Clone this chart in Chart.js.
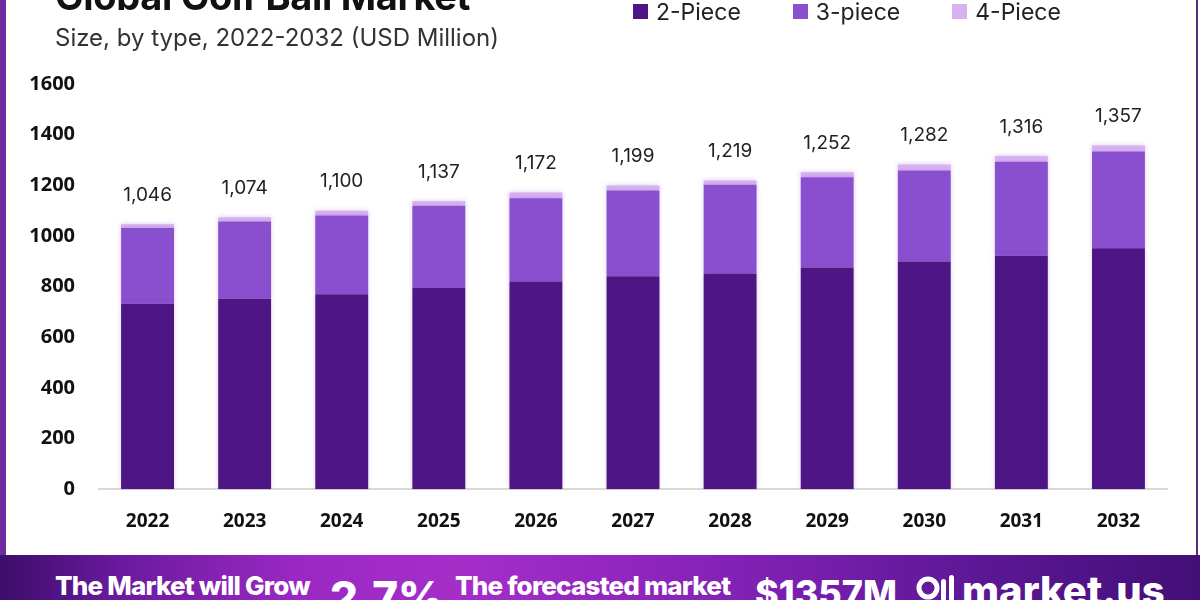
<!DOCTYPE html>
<html>
<head>
<meta charset="utf-8">
<script src="https://cdn.jsdelivr.net/npm/chart.js@4.4.1/dist/chart.umd.min.js"></script>
<style>
  html, body { margin:0; padding:0; width:1200px; height:600px; overflow:hidden; background:#fff; }
  #wrap { position:relative; width:1200px; height:600px; overflow:hidden; background:#fff; }
  #c { position:absolute; left:0; top:0; }
  #leftbar { position:absolute; left:0; top:0; width:6px; height:556px; background:#6e2ca0; }
  #rightbar { position:absolute; left:1196px; top:0; width:2px; height:556px; background:#5a2a7c; }
  #title { position:absolute; left:55px; top:-23px; font-family:Inter, sans-serif; font-weight:700; font-size:38px; line-height:1; color:#111; white-space:nowrap; letter-spacing:-0.3px; }
  #subtitle { position:absolute; left:55px; top:24px; font-family:Inter, sans-serif; font-weight:400; font-size:24px; line-height:1.2; color:#333; white-space:nowrap; }
  #legend { position:absolute; left:633px; top:0px; height:23px; font-family:Inter, sans-serif; font-size:23px; color:#222; display:flex; align-items:center; white-space:nowrap; }
  #legend .item { display:flex; align-items:center; margin-right:52px; }
  #legend .box { width:15px; height:15px; margin-right:8px; }
  #banner { position:absolute; left:0; top:555px; width:1200px; height:45px;
    background:linear-gradient(90deg,#3c0e6c 0%,#6a1a9e 10%,#9b28c4 25%,#a52ec9 38%,#9226bf 52%,#7a1fb0 66%,#5c1794 82%,#420f78 100%); overflow:hidden; }
  .bt { position:absolute; color:#fff; font-family:Inter, sans-serif; font-weight:800; white-space:nowrap; }
</style>
</head>
<body>
<div id="wrap">
  <canvas id="c" width="1200" height="555"></canvas>
  <div id="leftbar"></div>
  <div id="rightbar"></div>
  <div id="title">Global Golf Ball Market</div>
  <div id="subtitle">Size, by type, 2022-2032 (USD Million)</div>
  <div id="legend"></div>
  <div id="banner">
    <div class="bt" style="left:55px;top:15px;font-size:26px;letter-spacing:-0.8px;">The Market will Grow</div>
    <div class="bt" style="left:330px;top:15px;font-size:44px;">2.7%</div>
    <div class="bt" style="left:455px;top:15px;font-size:26px;letter-spacing:-0.8px;">The forecasted market</div>
    <div class="bt" style="left:755px;top:16px;font-size:36px;">$1357M</div>
    <svg style="position:absolute;left:915px;top:18px;" width="42" height="30" viewBox="0 0 42 30">
      <circle cx="13" cy="15" r="9" fill="none" stroke="#fff" stroke-width="5"/>
      <rect x="26" y="6" width="5" height="22" rx="2.5" fill="#fff"/>
      <rect x="34" y="2" width="5" height="26" rx="2.5" fill="#fff"/>
    </svg>
    <div class="bt" style="left:962px;top:11px;font-size:40px;">market.us</div>
  </div>
</div>
<script>
const years = ["2022","2023","2024","2025","2026","2027","2028","2029","2030","2031","2032"];
const twoPiece   = [732, 752, 770, 794, 820, 841, 852, 875, 899, 922, 951];
const threePiece = [299, 305, 311, 325, 329, 338, 350, 357, 359, 371, 382];
const fourPiece  = [15, 17, 19, 18, 23, 20, 17, 20, 24, 23, 24];
const totals     = [1046, 1074, 1100, 1137, 1172, 1199, 1219, 1252, 1282, 1316, 1357];
const seriesNames = ["2-Piece", "3-piece", "4-Piece"];
const seriesColors = ["#4d1684", "#8a4fcf", "#d8b2f0"];
const yTicks = [0, 200, 400, 600, 800, 1000, 1200, 1400, 1600];

const lg = document.getElementById('legend');
seriesNames.forEach((n, i) => {
  const it = document.createElement('div'); it.className = 'item';
  const b = document.createElement('div'); b.className = 'box'; b.style.background = seriesColors[i];
  const t = document.createElement('span'); t.textContent = n;
  it.appendChild(b); it.appendChild(t); lg.appendChild(it);
});

const totalLabels = {
  id: 'totalLabels',
  afterDatasetsDraw(chart) {
    const ctx = chart.ctx;
    const meta = chart.getDatasetMeta(2);
    ctx.save();
    ctx.font = '400 19px Inter, sans-serif';
    ctx.fillStyle = '#222';
    ctx.textAlign = 'center';
    ctx.textBaseline = 'middle';
    meta.data.forEach((el, i) => {
      ctx.fillText(totals[i].toLocaleString('en-US'), el.x, el.y - 29);
    });
    ctx.restore();
  }
};
const glow = {
  id: 'glow',
  beforeDatasetsDraw(chart) { chart.ctx.save(); chart.ctx.shadowColor = 'rgba(140,80,200,0.35)'; chart.ctx.shadowBlur = 5; },
  afterDatasetsDraw(chart) { chart.ctx.restore(); }
};

new Chart(document.getElementById('c'), {
  type: 'bar',
  data: {
    labels: years,
    datasets: [
      { label: seriesNames[0], data: twoPiece, backgroundColor: seriesColors[0] },
      { label: seriesNames[1], data: threePiece, backgroundColor: seriesColors[1] },
      { label: seriesNames[2], data: fourPiece, backgroundColor: seriesColors[2] }
    ]
  },
  options: {
    responsive: false,
    animation: false,
    devicePixelRatio: 1,
    layout: { padding: { top: 84, right: 33, left: 0, bottom: 1 } },
    plugins: { legend: { display: false }, tooltip: { enabled: false }, title: { display: false } },
    datasets: { bar: { barPercentage: 0.545, categoryPercentage: 1.0 } },
    scales: {
      x: {
        stacked: true,
        grid: { display: false, drawTicks: false },
        border: { display: true, color: '#d9d9d9', width: 2 },
        ticks: { color: '#111', padding: 21, font: { family: '"Open Sans", sans-serif', size: 19, weight: 'bold' } }
      },
      y: {
        stacked: true,
        min: 0, max: 1600,
        afterFit(scale) { scale.width = 99; },
        afterBuildTicks(scale) { scale.ticks = yTicks.map(v => ({ value: v })); },
        grid: { display: false, drawTicks: false },
        border: { display: false },
        ticks: { color: '#111', padding: 24, callback: v => String(v), font: { family: '"Open Sans", sans-serif', size: 20, weight: 'bold' } }
      }
    }
  },
  plugins: [glow, totalLabels]
});
</script>
</body>
</html>
